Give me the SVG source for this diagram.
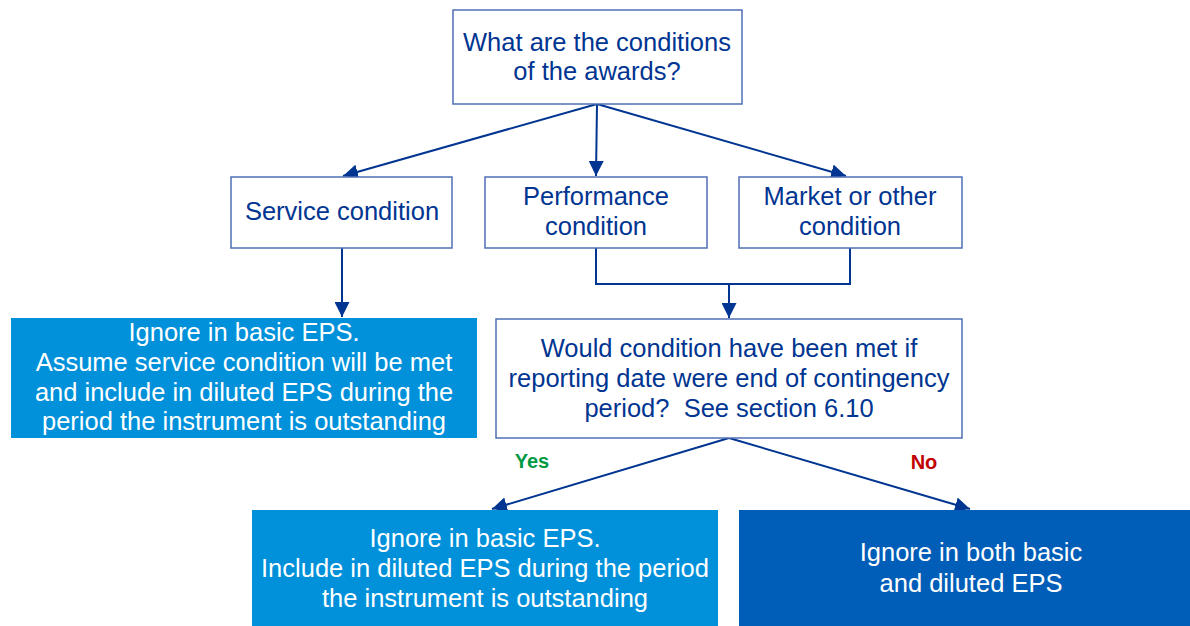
<svg xmlns="http://www.w3.org/2000/svg" width="1190" height="626" viewBox="0 0 1190 626">
<defs>
<style>
.box{fill:#fff;stroke:#4f6fb5;stroke-width:1.5}
.t{font-family:"Liberation Sans",Arial,sans-serif;font-size:25.5px;fill:#003591;text-anchor:middle}
.w{font-family:"Liberation Sans",Arial,sans-serif;font-size:25.5px;fill:#fff;text-anchor:middle}
.c{fill:none;stroke:#003591;stroke-width:2}
.lbl{font-family:"Liberation Sans",Arial,sans-serif;font-size:20px;font-weight:bold;text-anchor:middle}
</style>
<marker id="a" viewBox="0 0 12 12" refX="12" refY="6" markerWidth="15" markerHeight="15" markerUnits="userSpaceOnUse" orient="auto">
<path d="M0,0 L12,6 L0,12 z" fill="#003591"/>
</marker>
</defs>
<rect width="1190" height="626" fill="#fff"/>
<g id="connectors">
<line class="c" x1="597" y1="104" x2="343" y2="176" marker-end="url(#a)"/>
<line class="c" x1="597" y1="104" x2="596" y2="176" marker-end="url(#a)"/>
<line class="c" x1="597" y1="104" x2="846" y2="176" marker-end="url(#a)"/>
<line class="c" x1="342" y1="248" x2="342" y2="317" marker-end="url(#a)"/>
<polyline class="c" points="596,248 596,284 850,284 850,248"/>
<line class="c" x1="729" y1="284" x2="729" y2="318" marker-end="url(#a)"/>
<line class="c" x1="729" y1="438" x2="492" y2="509" marker-end="url(#a)"/>
<line class="c" x1="729" y1="438" x2="970" y2="509" marker-end="url(#a)"/>
<text class="lbl" x="532" y="468" fill="#009A44">Yes</text>
<text class="lbl" x="924" y="469" fill="#C00000">No</text>
</g>
<g id="n-top">
<rect class="box" x="453" y="10" width="289" height="94"/>
<text class="t" x="597" y="51">What are the conditions</text>
<text class="t" x="597" y="80">of the awards?</text>
</g>
<g id="n-service">
<rect class="box" x="231" y="177" width="221" height="71"/>
<text class="t" x="342" y="220">Service condition</text>
</g>
<g id="n-performance">
<rect class="box" x="485" y="177" width="222" height="71"/>
<text class="t" x="596" y="205">Performance</text>
<text class="t" x="596" y="235">condition</text>
</g>
<g id="n-market">
<rect class="box" x="739" y="177" width="223" height="71"/>
<text class="t" x="850" y="205">Market or other</text>
<text class="t" x="850" y="235">condition</text>
</g>
<g id="n-service-result">
<rect x="11" y="318" width="466" height="120" fill="#0091DA"/>
<text class="w" x="244" y="341">Ignore in basic EPS.</text>
<text class="w" x="244" y="371">Assume service condition will be met</text>
<text class="w" x="244" y="401">and include in diluted EPS during the</text>
<text class="w" x="244" y="430">period the instrument is outstanding</text>
</g>
<g id="n-question">
<rect class="box" x="496" y="319" width="466" height="119"/>
<text class="t" x="729" y="357">Would condition have been met if</text>
<text class="t" x="729" y="387">reporting date were end of contingency</text>
<text class="t" x="729" y="417" xml:space="preserve">period?  See section 6.10</text>
</g>
<g id="n-yes">
<rect x="252" y="510" width="466" height="116" fill="#0091DA"/>
<text class="w" x="485" y="547">Ignore in basic EPS.</text>
<text class="w" x="485" y="577">Include in diluted EPS during the period</text>
<text class="w" x="485" y="607">the instrument is outstanding</text>
</g>
<g id="n-no">
<rect x="739" y="510" width="451" height="116" fill="#005EB8"/>
<text class="w" x="971" y="561">Ignore in both basic</text>
<text class="w" x="971" y="592">and diluted EPS</text>
</g>
</svg>
